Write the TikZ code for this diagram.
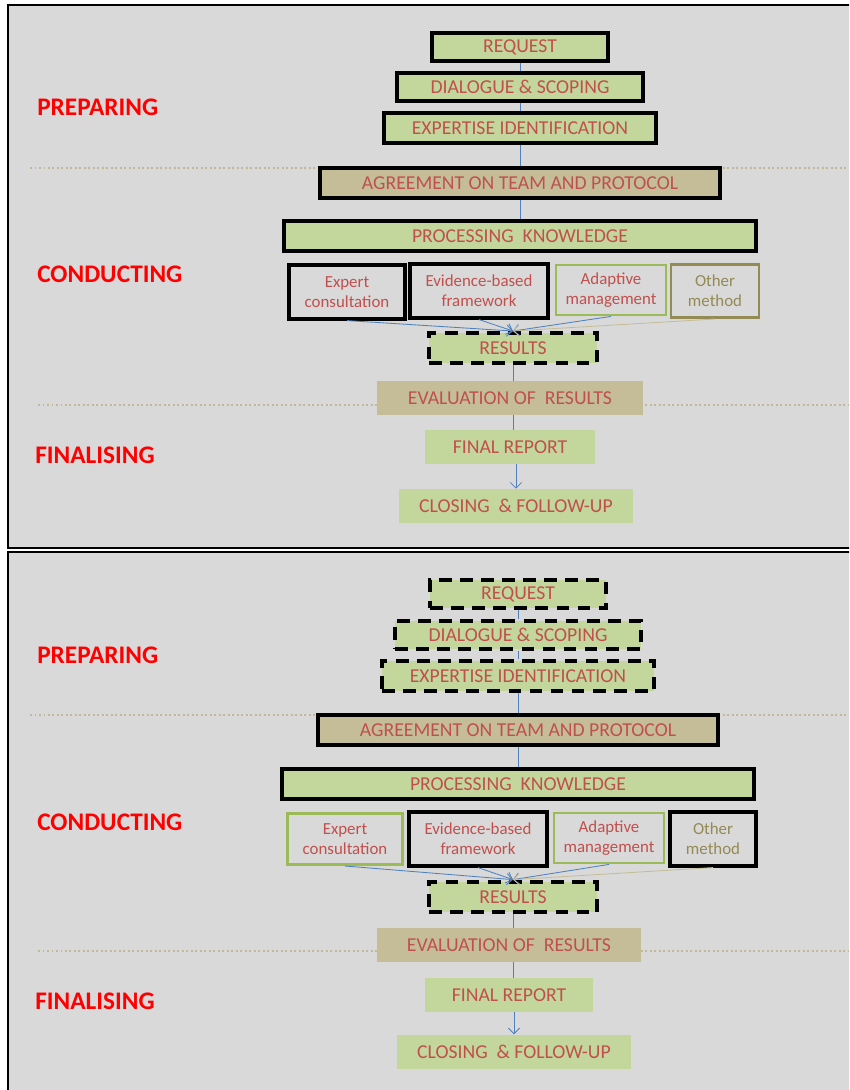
\documentclass[tikz,border=0pt]{standalone}
\usepackage{fontspec}
\setmainfont{Carlito}
\usepackage{tikz}
\usetikzlibrary{arrows.meta}
\usetikzlibrary{positioning}
\definecolor{panelgray}{RGB}{217,217,217}
\definecolor{boxgreen}{RGB}{195,214,155}
\definecolor{boxtan}{RGB}{196,189,151}
\definecolor{textred}{RGB}{192,80,77}
\definecolor{methodolive}{RGB}{148,138,84}
\definecolor{leafgreen}{RGB}{155,187,89}
\definecolor{linkblue}{RGB}{79,129,189}
\tikzset{
    >={Straight Barb[length=4pt,width=8pt]},
    panel/.style={draw=black, line width=1.5pt, fill=panelgray},
    divider/.style={draw=methodolive!60, line width=1.2pt, dotted},
    phase/.style={text=red, font=\fontsize{18}{21}\selectfont\bfseries, inner sep=0pt},
    stage/.style={text=textred, font=\fontsize{14}{16}\selectfont, inner sep=0pt},
    greenbox/.style={stage, fill=boxgreen},
    tanbox/.style={stage, fill=boxtan},
    solidframe/.style={draw=black, line width=2.8pt},
    dashframe/.style={draw=black, line width=2.8pt, dash pattern=on 9pt off 6pt},
    method/.style={text=textred, font=\fontsize{12}{14}\selectfont, align=center,
        inner sep=0pt, minimum height=1.33cm},
    blackedge/.style={draw=black, line width=2.8pt},
    greenedge/.style={draw=leafgreen, line width=2pt},
    oliveedge/.style={draw=methodolive, line width=2pt},
    link/.style={draw=linkblue, line width=0.6pt},
    tanlink/.style={draw=boxtan, line width=0.6pt},
}

\begin{document}
\begin{tikzpicture}[x=0.025cm, y=-0.025cm]
\path[use as bounding box] (0,0) rectangle (849,1090);
\clip (0,0) rectangle (849,1090);

% top panel
\draw[panel] (8,5) rectangle (870,548);
\draw[divider] (30,168) -- (849,168);
\draw[divider] (38,405) -- (849,405);
\node[phase, anchor=west] (tprep) at (37,107) {PREPARING};
\node[phase, anchor=west] (tcond) at (37,274) {CONDUCTING};
\node[phase, anchor=west] (tfinl) at (35,455) {FINALISING};

\node[greenbox, solidframe, minimum width=4.4cm, minimum height=0.7cm] (treq) at (520,47) {REQUEST};
\node[greenbox, solidframe, minimum width=6.15cm, minimum height=0.7cm] (tdia) at (520,87) {DIALOGUE \& SCOPING};
\node[greenbox, solidframe, minimum width=6.8cm, minimum height=0.77cm] (texp) at (520,128) {EXPERTISE IDENTIFICATION};
\node[tanbox, solidframe, minimum width=10cm, minimum height=0.77cm] (tagr) at (520,183) {AGREEMENT ON TEAM AND PROTOCOL};
\node[greenbox, solidframe, minimum width=11.8cm, minimum height=0.75cm] (tpro) at (520,236) {PROCESSING~~KNOWLEDGE};

\node[method, blackedge, minimum width=2.9cm] (tcon) at (347,292) {Expert\\consultation};
\node[method, blackedge, minimum width=3.43cm] (tevi) at (479,291) {Evidence-based\\framework};
\node[method, greenedge, minimum width=2.75cm, minimum height=1.25cm] (tada) at (611,290) {Adaptive\\management};
\node[method, oliveedge, text=methodolive, minimum width=2.2cm] (toth) at (715,291) {Other\\method};

\node[greenbox, dashframe, minimum width=4.2cm, minimum height=0.75cm] (tres) at (513,348) {RESULTS};
\node[tanbox, minimum width=6.63cm, minimum height=0.85cm] (teva) at (510,398) {EVALUATION OF~~RESULTS};
\node[greenbox, minimum width=4.23cm, minimum height=0.85cm] (tfin) at (510,447) {FINAL REPORT};
\node[greenbox, minimum width=5.83cm, minimum height=0.85cm] (tclo) at (516,506) {CLOSING~~\&~FOLLOW-UP};

\draw[link] (treq) -- (tdia);
\draw[link] (tdia) -- (texp);
\draw[link] (texp) -- (tagr);
\draw[link] (tagr) -- (tpro);
\draw[link,->] (tcon.south) -- (tres.north);
\draw[link,->] (tevi.south) -- (tres.north);
\draw[link,->] (tada.south) -- (tres.north);
\draw[tanlink,->] (toth.south) -- (tres.north);
\draw[link] (tres.south) -- (tres.south |- teva.north);
\draw[link] (tres.south |- teva.south) -- (tres.south |- tfin.north);
\draw[link,->] (tfin.south -| tclo.north) -- (tclo.north);

% bottom panel
\draw[panel] (8,552) rectangle (870,1110);
\draw[divider] (30,715) -- (849,715);
\draw[divider] (38,951) -- (849,951);
\node[phase, anchor=west] (bprep) at (37,655) {PREPARING};
\node[phase, anchor=west] (bcond) at (37,822) {CONDUCTING};
\node[phase, anchor=west] (bfinl) at (35,1001) {FINALISING};

\node[greenbox, dashframe, minimum width=4.4cm, minimum height=0.7cm] (breq) at (518,594) {REQUEST};
\node[greenbox, dashframe, minimum width=6.15cm, minimum height=0.72cm] (bdia) at (518,635) {DIALOGUE \& SCOPING};
\node[greenbox, dashframe, minimum width=6.8cm, minimum height=0.77cm] (bexp) at (518,676) {EXPERTISE IDENTIFICATION};
\node[tanbox, solidframe, minimum width=10cm, minimum height=0.77cm] (bagr) at (518,730) {AGREEMENT ON TEAM AND PROTOCOL};
\node[greenbox, solidframe, minimum width=11.8cm, minimum height=0.77cm] (bpro) at (518,784) {PROCESSING~~KNOWLEDGE};

\node[method, greenedge, minimum width=2.88cm, minimum height=1.28cm] (bcon) at (345,839) {Expert\\consultation};
\node[method, blackedge, minimum width=3.43cm] (bevi) at (478,839) {Evidence-based\\framework};
\node[method, greenedge, minimum width=2.75cm, minimum height=1.25cm] (bada) at (609,838) {Adaptive\\management};
\node[method, blackedge, text=methodolive, minimum width=2.15cm] (both) at (713,839) {Other\\method};

\node[greenbox, dashframe, minimum width=4.2cm, minimum height=0.77cm] (bres) at (513,897) {RESULTS};
\node[tanbox, minimum width=6.6cm, minimum height=0.85cm] (beva) at (509,945) {EVALUATION OF~~RESULTS};
\node[greenbox, minimum width=4.2cm, minimum height=0.85cm] (bfin) at (509,995) {FINAL REPORT};
\node[greenbox, minimum width=5.83cm, minimum height=0.87cm] (bclo) at (514,1052) {CLOSING~~\&~FOLLOW-UP};

\draw[link] (breq) -- (bdia);
\draw[link] (bdia) -- (bexp);
\draw[link] (bexp) -- (bagr);
\draw[link] (bagr) -- (bpro);
\draw[link,->] (bcon.south) -- (bres.north);
\draw[link,->] (bevi.south) -- (bres.north);
\draw[link,->] (bada.south) -- (bres.north);
\draw[tanlink,->] (both.south) -- (bres.north);
\draw[link] (bres.south) -- (bres.south |- beva.north);
\draw[link] (bres.south |- beva.south) -- (bres.south |- bfin.north);
\draw[link,->] (bfin.south -| bclo.north) -- (bclo.north);
\end{tikzpicture}
\end{document}
